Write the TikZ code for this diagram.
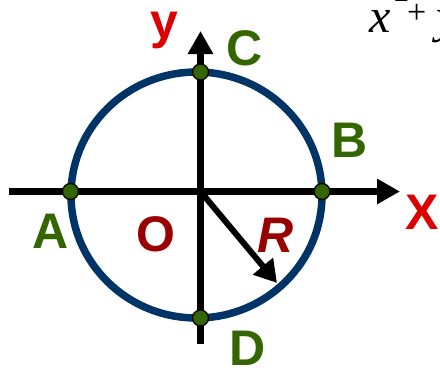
\documentclass[tikz,border=0pt]{standalone}
\usepackage{fontspec}
\setmainfont{Liberation Sans}
\newfontfamily\fserif{Liberation Serif}
\usetikzlibrary{arrows.meta}
\definecolor{circblue}{HTML}{003366}
\definecolor{ptgreen}{HTML}{336600}
\definecolor{axred}{HTML}{DD0000}
\definecolor{darkred}{HTML}{990000}
\begin{document}
\begin{tikzpicture}[x=1pt,y=-1pt,
  axis/.style={line width=7pt,-{Triangle[length=23pt,width=24pt]}},
  radarrow/.style={line width=6pt,-{Triangle[length=22pt,width=25pt]}},
  ptdot/.style={circle,fill=ptgreen,draw=black,line width=1.3pt,minimum size=16pt,inner sep=0pt},
  lbl/.style={anchor=base,inner sep=0pt,text depth=0pt,font=\bfseries\fontsize{50}{50}\selectfont},
  eqtxt/.style={anchor=base west,inner sep=0pt,font=\fserif\fontsize{48}{48}\selectfont}]
\useasboundingbox (0,0) rectangle (440,370);
\clip (0,0) rectangle (440,370);
\fill[white] (0,0) rectangle (440,370);
\coordinate (O) at (200.5,191.5);
\coordinate (cc) at (196.5,195);
\coordinate (xl) at (9,191.5);
\coordinate (xr) at (400,191.5);
\coordinate (yb) at (200.5,344);
\coordinate (yt) at (200.5,31);
\coordinate (rt) at (277,283);
\draw[circblue,line width=7.5pt] (cc) ellipse [x radius=125.5, y radius=123];
\draw[axis] (xl) -- (xr);
\draw[axis] (yb) -- (yt);
\draw[radarrow] (O) -- (rt);
\node[ptdot] (A) at (70.5,191.5) {};
\node[ptdot] (B) at (322,191.5) {};
\node[ptdot] (C) at (200.5,72) {};
\node[ptdot] (D) at (200.5,318) {};
\node[lbl,text=axred] (ylab) at (164.5,38) {y};
\node[lbl,text=ptgreen] (Clab) at (244.5,65) {C};
\node[lbl,text=ptgreen] (Blab) at (350,157) {B};
\node[lbl,text=axred] (Xlab) at (422,229) {X};
\node[lbl,text=ptgreen] (Alab) at (50.5,248) {A};
\node[lbl,text=darkred] (Olab) at (155.5,251) {O};
\node[lbl,text=darkred,font=\bfseries\itshape\fontsize{50}{50}\selectfont] (Rlab) at (276,252) {R};
\node[lbl,text=ptgreen] (Dlab) at (248,365) {D};
\node[eqtxt] (eqx) at (369,32) {\itshape x};
\node[eqtxt,font=\fserif\fontsize{30}{30}\selectfont] (eqsq) at (394,1) {2};
\node[eqtxt,font=\fserif\fontsize{34}{34}\selectfont] (eqplus) at (407,23) {+};
\node[eqtxt] (eqy) at (436,32) {\itshape y};
\end{tikzpicture}
\end{document}
